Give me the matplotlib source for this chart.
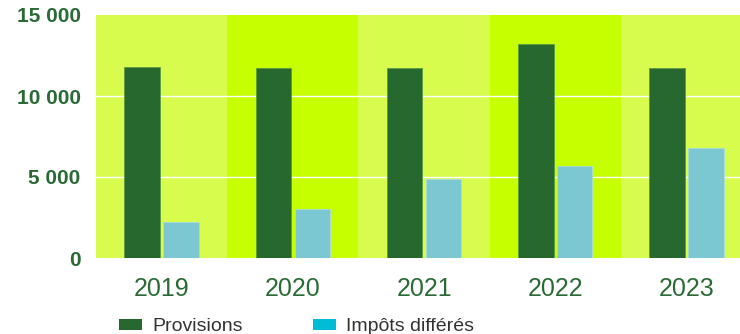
import numpy as np
import matplotlib
matplotlib.use('Agg')
import matplotlib.pyplot as plt
from matplotlib.patches import Patch
from matplotlib.ticker import FuncFormatter

years = ['2019', '2020', '2021', '2022', '2023']
provisions = [11800, 11700, 11700, 13200, 11700]
impots = [2200, 3000, 4900, 5700, 6800]
series_names = ['Provisions', 'Impôts différés']

dark_green = '#27682f'
bar_blue = '#7bc8d3'
legend_blue = '#00bcd4'
band_light = '#d8fc4e'
band_bright = '#c6ff00'
label_green = '#2a6b35'

plt.rcParams['font.family'] = ['Liberation Sans', 'DejaVu Sans']

fig = plt.figure(figsize=(7.4, 3.34), dpi=100)
ax = fig.add_axes([96/740, 1 - 258/334, 644/740, 243/334])

x = np.arange(len(years))
w = 0.27

# alternating background band behind each year
for i in x:
    ax.axvspan(i - 0.5, i + 0.5, color=band_light if i % 2 == 0 else band_bright,
               lw=0, zorder=0)

for yv in [5000, 10000]:
    ax.axhline(yv, color='white', lw=1.0, zorder=1)

ax.bar(x - 0.148, provisions, w, color=dark_green, edgecolor='#5a9a45',
       linewidth=0.6, zorder=2)
ax.bar(x + 0.148, impots, w, color=bar_blue, edgecolor='#a8dde0',
       linewidth=0.6, zorder=2)

ax.set_xlim(-0.5, 4.407)
ax.set_ylim(0, 15000)
ax.set_yticks([0, 5000, 10000, 15000])
ax.yaxis.set_major_formatter(FuncFormatter(lambda v, p: f'{int(v):,}'.replace(',', ' ')))
ax.set_xticks(x)
ax.set_xticklabels(years)

for s in ax.spines.values():
    s.set_visible(False)
ax.tick_params(axis='y', length=0, pad=11, labelsize=15, labelcolor=label_green)
ax.tick_params(axis='x', length=0, pad=14, labelsize=18, labelcolor=label_green)
for t in ax.get_yticklabels():
    t.set_fontweight('bold')

handles = [Patch(facecolor=dark_green), Patch(facecolor=legend_blue)]
fig.legend(handles, series_names, loc='upper left', ncol=2,
           bbox_to_anchor=(119/740, 1 - 318/334), frameon=False,
           fontsize=14, labelcolor='#333333', handlelength=1.2,
           handleheight=0.5, handletextpad=0.5, columnspacing=3.6,
           borderpad=0, borderaxespad=0)

fig.savefig('out.png', dpi=100)
